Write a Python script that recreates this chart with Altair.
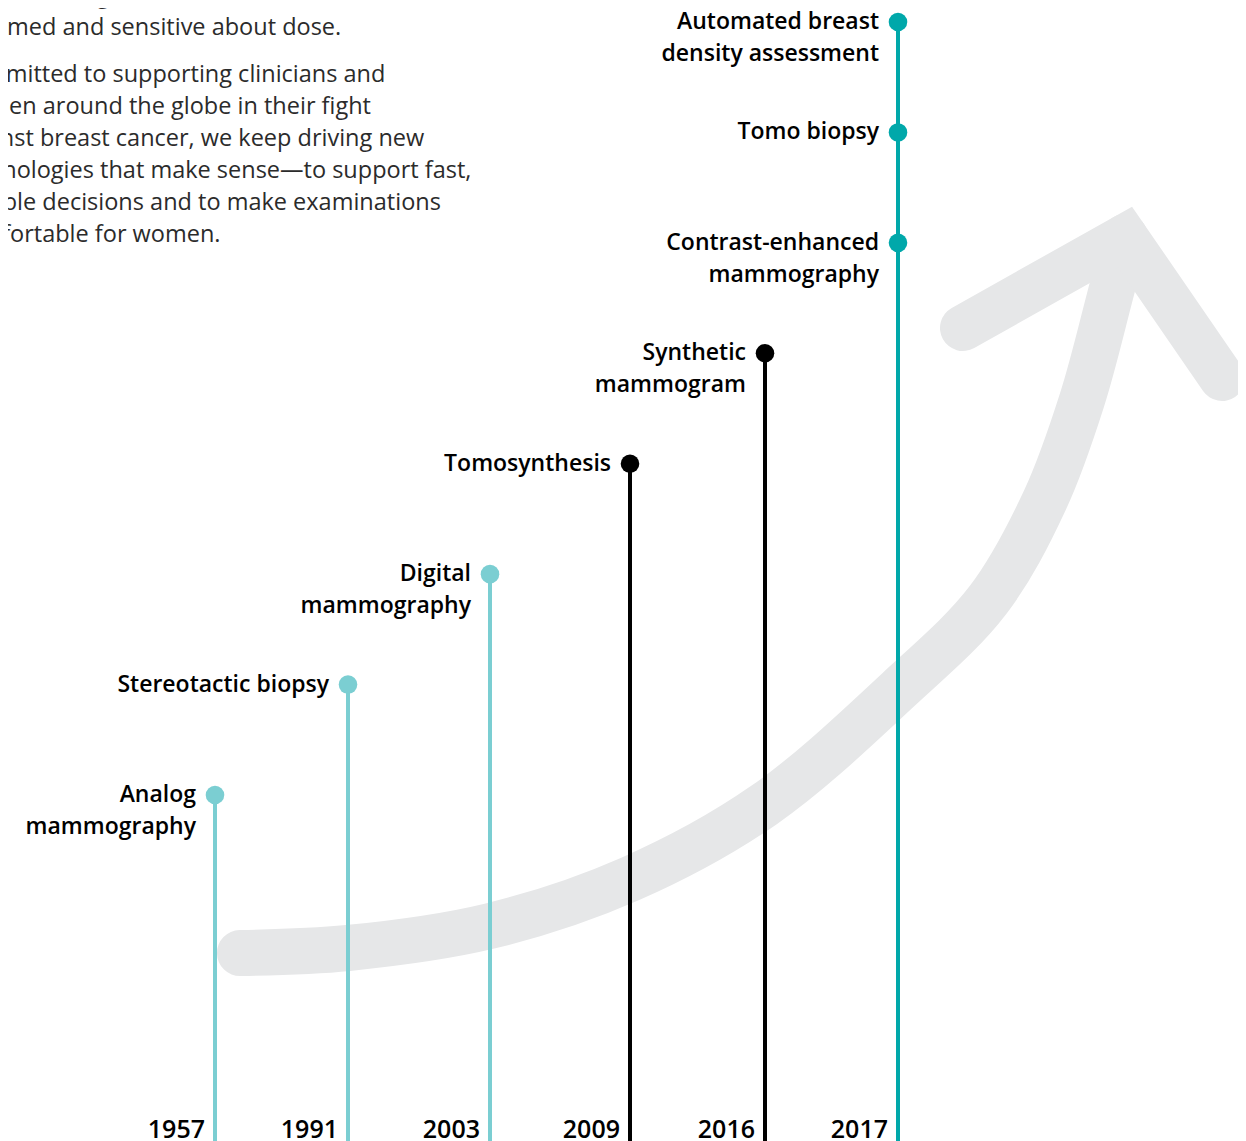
import altair as alt
import pandas as pd

# ---------------- data ----------------
years = [1957, 1991, 2003, 2009, 2016, 2017]
stem_top_level = [1, 2, 3, 4, 5, 8]
stem_group = ["early", "early", "early", "mid", "mid", "late"]

event_years = [1957, 1991, 2003, 2009, 2016, 2017, 2017, 2017]
event_levels = [1, 2, 3, 4, 5, 6, 7, 8]
event_line1 = ["Analog", "Stereotactic biopsy", "Digital", "Tomosynthesis",
               "Synthetic", "Contrast-enhanced", "Tomo biopsy", "Automated breast"]
event_line2 = ["mammography", "", "mammography", "", "mammogram",
               "mammography", "", "density assessment"]
event_group = ["early", "early", "early", "mid", "mid", "late", "late", "late"]

group_names = ["early", "mid", "late"]
group_colors = ["#7BCED2", "#000000", "#00A8AA"]

# decorative arrow (page-pixel space)
shaft_x = [240, 348, 490, 630, 764, 898, 988, 1045, 1082, 1109, 1125]
shaft_y = [953, 948, 926, 879, 805, 690, 600, 500, 400, 300, 237]
head_x = [963, 1125, 1222]
head_y = [328, 237, 378]

body_lines = [
    "still advancing. In addition, women are more",
    "informed and sensitive about dose.",
    "Committed to supporting clinicians and",
    "women around the globe in their fight",
    "against breast cancer, we keep driving new",
    "technologies that make sense\u2014to support fast,",
    "reliable decisions and to make examinations",
    "comfortable for women.",
]
body_paragraph = [0, 0, 1, 1, 1, 1, 1, 1]

# ---------------- frames ----------------
W, H = 1230, 1133
FONT = "Open Sans"

stems = pd.DataFrame({"year": years, "level": stem_top_level, "group": stem_group})
events = pd.DataFrame({"year": event_years, "level": event_levels,
                       "line1": event_line1, "line2": event_line2, "group": event_group})
yearlab = pd.DataFrame({"year": years, "label": [str(y) for y in years]})
shaft = pd.DataFrame({"px": shaft_x, "py": shaft_y, "i": range(len(shaft_x))})
head = pd.DataFrame({"px": head_x, "py": head_y, "i": range(len(head_x))})
body = pd.DataFrame({"t": body_lines, "p": body_paragraph, "i": range(len(body_lines))})
body["py"] = -4 + 32 * body["i"] + 15 * body["p"]
body["px"] = -45

# scales: the timeline is evenly stepped per milestone, so a piecewise scale
xs_year = alt.Scale(domain=years, range=[207, 340, 482, 622, 757, 890],
                    nice=False, zero=False)
ys_level = alt.Scale(domain=[-2.1332, 8.1268], nice=False, zero=False)
xs_px = alt.Scale(domain=[8, 8 + W], nice=False, zero=False)
ys_px = alt.Scale(domain=[8, 8 + H], nice=False, zero=False, reverse=True)
cs = alt.Scale(domain=group_names, range=group_colors)

X = alt.X("year:Q", scale=xs_year, axis=None)
Y = alt.Y("level:Q", scale=ys_level, axis=None)
C = alt.Color("group:N", scale=cs, legend=None)

arrow_grey = "#E6E7E8"
shaft_layer = alt.Chart(shaft).mark_line(
    color=arrow_grey, strokeWidth=46, strokeCap="round", interpolate="catmull-rom"
).encode(
    x=alt.X("px:Q", scale=xs_px, axis=None),
    y=alt.Y("py:Q", scale=ys_px, axis=None),
    order="i:Q",
)
head_layer = alt.Chart(head).mark_line(
    color=arrow_grey, strokeWidth=46, strokeCap="round", strokeJoin="miter",
    strokeMiterLimit=10
).encode(
    x=alt.X("px:Q", scale=xs_px, axis=None),
    y=alt.Y("py:Q", scale=ys_px, axis=None),
    order="i:Q",
)

stem_layer = alt.Chart(stems).mark_rule(strokeWidth=4).encode(
    x=X, y=Y, y2=alt.value(H), color=C
)
dot_layer = alt.Chart(events).mark_circle(size=345, opacity=1).encode(
    x=X, y=Y, color=C
)
lab1 = alt.Chart(events).mark_text(
    align="right", baseline="middle", dx=-19, fontSize=23, fontWeight=600,
    font=FONT, color="#000000"
).encode(x=X, y=Y, text="line1:N")
lab2 = alt.Chart(events).mark_text(
    align="right", baseline="middle", dx=-19, dy=32, fontSize=23, fontWeight=600,
    font=FONT, color="#000000"
).encode(x=X, y=Y, text="line2:N")

year_layer = alt.Chart(yearlab).mark_text(
    align="right", baseline="alphabetic", dx=-10, fontSize=25, fontWeight=600,
    font=FONT, color="#000000"
).encode(x=X, y=alt.value(H - 3), text="label:N")

body_layer = alt.Chart(body).mark_text(
    align="left", baseline="middle", fontSize=23.5, font=FONT, color="#2B2B2B"
).encode(
    x=alt.X("px:Q", scale=xs_px, axis=None),
    y=alt.Y("py:Q", scale=ys_px, axis=None),
    text="t:N",
)

chart = alt.layer(
    shaft_layer, head_layer, stem_layer, dot_layer, lab1, lab2, year_layer, body_layer
).resolve_scale(
    x="independent", y="independent"
).properties(
    width=W, height=H, padding=0,
    autosize=alt.AutoSizeParams(type="none"),
    background="white",
).configure_view(stroke=None)

chart.save("out.html", embed_options={"renderer": "svg", "actions": False})
